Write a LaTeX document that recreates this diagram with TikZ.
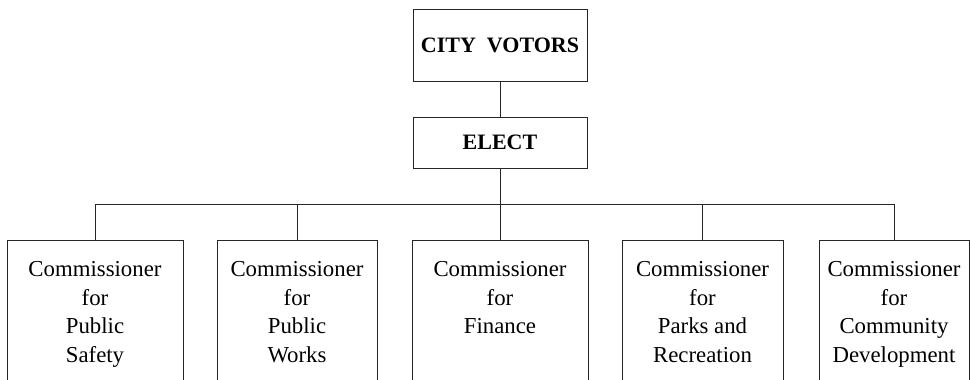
\documentclass[tikz,border=0pt]{standalone}
\usepackage{fontspec}
\setmainfont{Liberation Serif}
\usetikzlibrary{positioning}

\begin{document}
\begin{tikzpicture}[x=1pt,y=-1pt,
  line width=0.8pt,
  box/.style={draw=black!85, inner sep=0pt},
  headbox/.style={box, minimum width=174pt, font=\bfseries\fontsize{22}{26}\selectfont},
  cbox/.style={box, anchor=north, minimum height=170pt},
  ctext/.style={inner sep=0pt, align=center, font=\fontsize{22.8}{28.6}\selectfont},
  link/.style={draw=black!85}]
\useasboundingbox (0,0) rectangle (970,380);
% top of the chart
\node[headbox, minimum height=72pt] (votors) at (500,45) {CITY\ \ VOTORS};
\node[headbox, minimum height=51pt] (elect) at (500,142.5) {ELECT};
% the five commissioners
\node[cbox, minimum width=176pt] (safety) at (95,240) {};
\node[cbox, minimum width=160pt] (works) at (297,240) {};
\node[cbox, minimum width=176pt] (finance) at (500,240) {};
\node[cbox, minimum width=161pt] (parks) at (702.5,240) {};
\node[cbox, minimum width=150pt] (community) at (894,240) {};
\node[ctext, below=21pt of safety.north] (safetyT) {Commissioner\\for\\Public\\Safety};
\node[ctext, below=21pt of works.north] (worksT) {Commissioner\\for\\Public\\Works};
\node[ctext, below=21pt of finance.north] (financeT) {Commissioner\\for\\Finance};
\node[ctext, below=21pt of parks.north] (parksT) {Commissioner\\for\\Parks and\\Recreation};
\node[ctext, below=21pt of community.north] (communityT) {Commissioner\\for\\Community\\Development};
% connectors
\coordinate (bus) at (500,204);
\draw[link] (votors) -- (elect);
\draw[link] (elect) -- (bus);
\foreach \b in {safety,works,finance,parks,community}
  \draw[link] (bus) -| (\b.north);
\end{tikzpicture}
\end{document}
